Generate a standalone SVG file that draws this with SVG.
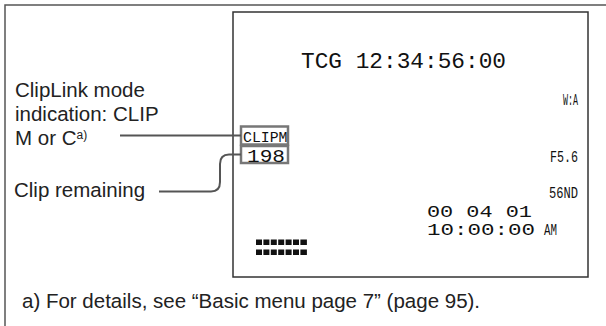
<svg xmlns="http://www.w3.org/2000/svg" width="606" height="326" viewBox="0 0 606 326">
<defs>
<style>
.lbl{font-family:"Liberation Sans",Arial,sans-serif;font-size:20.5px;fill:#222}
.lcd{font-family:"Liberation Mono","DejaVu Sans Mono",monospace;fill:#111}
.sm{font-size:17px}
.lead{fill:none;stroke:#555;stroke-width:2}
.tag{fill:#fff;stroke:#777;stroke-width:2.5}
</style>
</defs>
<rect x="5" y="5" width="640" height="360" fill="#fff" stroke="#555" stroke-width="1.5"/>
<g id="screen">
<rect x="233" y="12" width="355" height="265" fill="#fff" stroke="#333" stroke-width="1.5"/>
<text class="lcd" x="301" y="68" font-size="22.5" textLength="205" lengthAdjust="spacingAndGlyphs">TCG 12:34:56:00</text>
<text class="lcd sm" x="563" y="105" textLength="15" lengthAdjust="spacingAndGlyphs">W:A</text>
<text class="lcd sm" x="550" y="162" textLength="28" lengthAdjust="spacingAndGlyphs">F5.6</text>
<text class="lcd sm" x="549" y="198" textLength="29" lengthAdjust="spacingAndGlyphs">56ND</text>
<text class="lcd" x="427" y="217" font-size="16.5" textLength="105" lengthAdjust="spacingAndGlyphs">00 04 01</text>
<text class="lcd" x="427" y="235" font-size="16.5" textLength="108" lengthAdjust="spacingAndGlyphs">10:00:00</text>
<text class="lcd sm" x="544" y="235" textLength="13" lengthAdjust="spacingAndGlyphs">AM</text>
<g fill="#111">
<rect x="256" y="239.5" width="6" height="5.5"/><rect x="263.4" y="239.5" width="6" height="5.5"/><rect x="270.8" y="239.5" width="6" height="5.5"/><rect x="278.2" y="239.5" width="6" height="5.5"/><rect x="285.6" y="239.5" width="6" height="5.5"/><rect x="293" y="239.5" width="6" height="5.5"/><rect x="300.4" y="239.5" width="6.5" height="5.5"/>
<rect x="256" y="249.5" width="6" height="5.5"/><rect x="263.4" y="249.5" width="6" height="5.5"/><rect x="270.8" y="249.5" width="6" height="5.5"/><rect x="278.2" y="249.5" width="6" height="5.5"/><rect x="285.6" y="249.5" width="6" height="5.5"/><rect x="293" y="249.5" width="6" height="5.5"/><rect x="300.4" y="249.5" width="6.5" height="5.5"/>
</g>
</g>
<g id="clipm">
<rect class="tag" x="241" y="126.5" width="47" height="18"/>
<text class="lcd" x="243" y="142" font-size="15" textLength="44.5" lengthAdjust="spacingAndGlyphs">CLIPM</text>
</g>
<g id="remain">
<rect class="tag" x="241" y="146" width="47" height="17"/>
<text class="lcd" x="247" y="161.5" font-size="18.5" textLength="38" lengthAdjust="spacingAndGlyphs">198</text>
</g>
<g id="label-mode">
<text class="lbl" x="15" y="96.5">ClipLink mode</text>
<text class="lbl" x="15" y="120.5">indication: CLIP</text>
<text class="lbl" x="15" y="144.5">M or C<tspan font-size="12" dy="-6">a)</tspan></text>
</g>
<g id="label-remaining">
<text class="lbl" x="14" y="197">Clip remaining</text>
</g>
<g id="connectors">
<path class="lead" d="M120 135.5 H241"/>
<path class="lead" d="M159 191.5 H211 Q220 191.5 220 182 V164 Q220 154.5 229 154.5 H241"/>
</g>
<g id="footnote">
<text class="lbl" x="22" y="308">a) For details, see “Basic menu page 7” (page 95).</text>
</g>
</svg>
